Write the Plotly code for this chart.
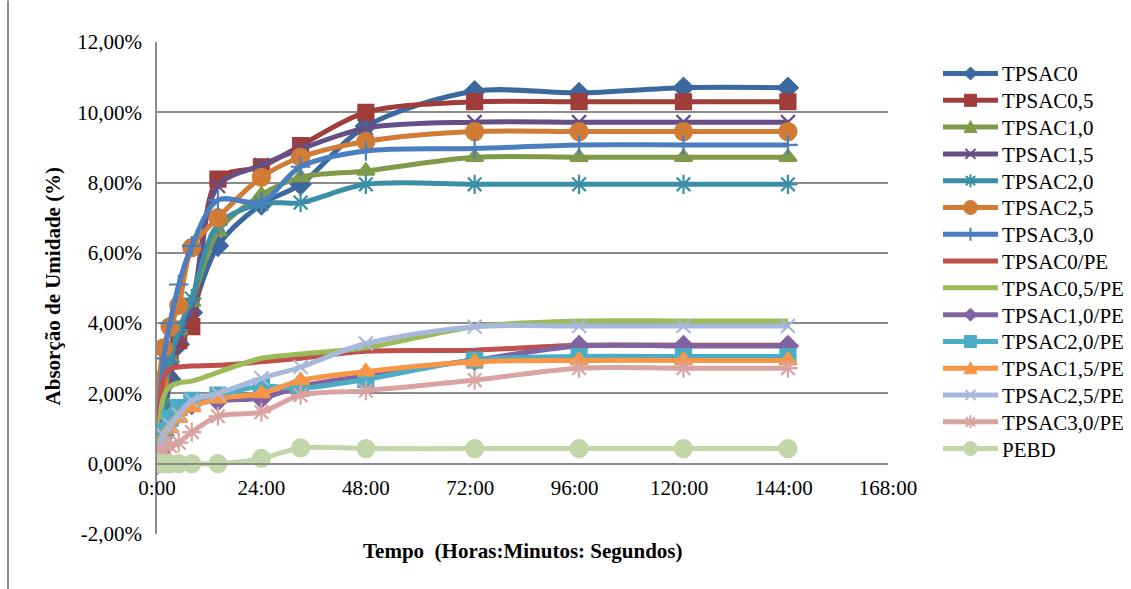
import plotly.graph_objects as go

# Sampling times (hours) and moisture uptake (%) for each formulation
horas = [0, 0.5, 1.5, 3, 5, 8, 14, 24, 33, 48, 73, 97, 121, 145]

series = {
    "TPSAC0":      [0, 0.4, 1.0, 2.4, 3.4, 4.3, 6.2, 7.38, 7.95, 9.6, 10.6, 10.55, 10.7, 10.7],
    "TPSAC0,5":    [0, 1.7, 2.4, 3.0, 3.5, 3.9, 8.1, 8.45, 9.05, 10.0, 10.3, 10.3, 10.3, 10.3],
    "TPSAC1,0":    [0, 0.8, 1.8, 3.0, 3.8, 4.6, 6.6, 7.65, 8.15, 8.33, 8.72, 8.72, 8.72, 8.72],
    "TPSAC1,5":    [0, 0.5, 1.5, 2.7, 3.6, 4.5, 7.9, 8.5, 8.95, 9.55, 9.72, 9.72, 9.72, 9.72],
    "TPSAC2,0":    [0, 0.6, 1.6, 2.9, 3.8, 4.7, 6.8, 7.4, 7.43, 7.95, 7.95, 7.95, 7.95, 7.95],
    "TPSAC2,5":    [0.95, 2.35, 3.3, 3.9, 4.5, 6.15, 7.0, 8.15, 8.72, 9.17, 9.45, 9.45, 9.45, 9.45],
    "TPSAC3,0":    [0, 1.5, 3.0, 4.0, 5.1, 6.2, 7.5, 7.45, 8.45, 8.9, 8.97, 9.07, 9.07, 9.07],
    "TPSAC0/PE":   [0, 1.3, 2.4, 2.7, 2.75, 2.78, 2.8, 2.9, 3.0, 3.2, 3.23, 3.37, 3.37, 3.37],
    "TPSAC0,5/PE": [0, 1.0, 1.9, 2.2, 2.3, 2.35, 2.6, 3.0, 3.12, 3.3, 3.9, 4.06, 4.06, 4.06],
    "TPSAC1,0/PE": [0, 0.3, 0.8, 1.2, 1.5, 1.7, 1.8, 1.87, 2.2, 2.5, 2.95, 3.35, 3.35, 3.35],
    "TPSAC2,0/PE": [0, 0.4, 0.9, 1.3, 1.6, 1.8, 1.95, 2.2, 2.15, 2.4, 2.95, 3.05, 3.05, 3.05],
    "TPSAC1,5/PE": [0, 0.3, 0.7, 1.0, 1.3, 1.6, 1.85, 2.0, 2.37, 2.62, 2.9, 2.94, 2.94, 2.94],
    "TPSAC2,5/PE": [0, 0.4, 0.8, 1.1, 1.4, 1.8, 2.0, 2.43, 2.75, 3.42, 3.9, 3.92, 3.92, 3.92],
    "TPSAC3,0/PE": [0, 0.2, 0.4, 0.5, 0.6, 0.9, 1.35, 1.47, 1.95, 2.08, 2.38, 2.72, 2.72, 2.72],
    "PEBD":        [0, 0, 0, 0, 0, 0, 0, 0.15, 0.45, 0.43, 0.43, 0.43, 0.43, 0.43],
}

x_ticks = [0, 24, 48, 72, 96, 120, 144, 168]
x_tick_labels = ["0:00", "24:00", "48:00", "72:00", "96:00", "120:00", "144:00", "168:00"]
y_ticks = [-2, 0, 2, 4, 6, 8, 10, 12]
y_tick_labels = ["-2,00%", "0,00%", "2,00%", "4,00%", "6,00%", "8,00%", "10,00%", "12,00%"]

# Colour, marker symbol and marker size for every series
styles = {
    "TPSAC0":      ("#3C68A0", "diamond", 15),
    "TPSAC0,5":    ("#9E3D3A", "square", 15),
    "TPSAC1,0":    ("#7F9A48", "triangle-up", 15),
    "TPSAC1,5":    ("#664F87", "x-thin-open", 14),
    "TPSAC2,0":    ("#3A8FA6", "asterisk-open", 16),
    "TPSAC2,5":    ("#D17C35", "circle", 17),
    "TPSAC3,0":    ("#4A7EBF", "cross-thin-open", 14),
    "TPSAC0/PE":   ("#C0504D", None, 0),
    "TPSAC0,5/PE": ("#9BBB59", None, 0),
    "TPSAC1,0/PE": ("#8064A2", "diamond", 15),
    "TPSAC2,0/PE": ("#4BACC6", "square", 15),
    "TPSAC1,5/PE": ("#F79646", "triangle-up", 15),
    "TPSAC2,5/PE": ("#A7B9DA", "x-thin-open", 14),
    "TPSAC3,0/PE": ("#D9A3A1", "asterisk-open", 16),
    "PEBD":        ("#C3D6A9", "circle", 17),
}

# Small glyph outlines (pixel offsets) used in the key
KEY_GLYPHS = {
    "diamond": ("M0,6.5 L6.5,0 L0,-6.5 L-6.5,0 Z", True),
    "square": ("M-6,-6 L6,-6 L6,6 L-6,6 Z", True),
    "triangle-up": ("M-6.5,-5.5 L6.5,-5.5 L0,6.5 Z", True),
    "x-thin-open": ("M-5,-5 L5,5 M-5,5 L5,-5", False),
    "asterisk-open": ("M0,-6.5 L0,6.5 M-4.6,-4.6 L4.6,4.6 M-4.6,4.6 L4.6,-4.6", False),
    "cross-thin-open": ("M0,-6.5 L0,6.5 M-6.5,0 L6.5,0", False),
}

FONT = "Liberation Serif, Times New Roman, serif"
GRID = "#8C8C8C"
LINE_W = 5

# Figure and plot-area geometry in pixels
W, H = 1131, 589
L, R, T, B = 157, 243, 41.5, 55.4
pw, ph = W - L - R, H - T - B


def px_x(px):
    return (px - L) / pw


def px_y(py):
    return (H - B - py) / ph


fig = go.Figure()
for name, vals in series.items():
    color, symbol, size = styles[name]
    if symbol is None:
        mode, marker = "lines", dict()
    else:
        mode = "lines+markers"
        marker = dict(symbol=symbol, size=size, color=color,
                      line=dict(color=color, width=2.2))
    fig.add_trace(go.Scatter(
        x=horas, y=vals, name=name, mode=mode, showlegend=False,
        line=dict(color=color, width=LINE_W, shape="spline", smoothing=0.9),
        marker=marker,
    ))

shapes = [
    dict(type="line", xref="paper", yref="paper",
         x0=px_x(8), x1=px_x(8), y0=px_y(0), y1=px_y(H),
         line=dict(color=GRID, width=2)),
]
annotations = [
    dict(text="<b>Tempo  (Horas:Minutos: Segundos)</b>", xref="paper", yref="paper",
         x=0.5, y=px_y(551), xanchor="center", yanchor="middle", showarrow=False,
         font=dict(family=FONT, size=21, color="black")),
    dict(text="<b>Absorção de Umidade (%)</b>", xref="paper", yref="paper",
         x=px_x(53), y=px_y(286), xanchor="center", yanchor="middle", showarrow=False,
         textangle=-90, font=dict(family=FONT, size=21, color="black")),
]

# Key on the right: line sample, glyph and label for each series
KEY_X0, KEY_X1, KEY_TXT, KEY_Y0, KEY_DY = 943, 998, 1000, 73, 26.8
key_cx = (KEY_X0 + KEY_X1) / 2
for i, name in enumerate(series):
    color, symbol, size = styles[name]
    yk = KEY_Y0 + i * KEY_DY
    shapes.append(dict(type="line", xref="paper", yref="paper",
                       x0=px_x(KEY_X0), x1=px_x(KEY_X1), y0=px_y(yk), y1=px_y(yk),
                       line=dict(color=color, width=LINE_W)))
    if symbol == "circle":
        shapes.append(dict(type="circle", xref="paper", yref="paper",
                           xsizemode="pixel", ysizemode="pixel",
                           xanchor=px_x(key_cx), yanchor=px_y(yk),
                           x0=-7, x1=7, y0=-7, y1=7,
                           fillcolor=color, line=dict(color=color, width=1)))
    elif symbol is not None:
        path, filled = KEY_GLYPHS[symbol]
        shapes.append(dict(type="path", xref="paper", yref="paper",
                           xsizemode="pixel", ysizemode="pixel",
                           xanchor=px_x(key_cx), yanchor=px_y(yk), path=path,
                           fillcolor=color if filled else "rgba(0,0,0,0)",
                           line=dict(color=color, width=1 if filled else 2)))
    annotations.append(dict(text=name, xref="paper", yref="paper",
                            x=px_x(KEY_TXT), y=px_y(yk + 1), xanchor="left", yanchor="middle",
                            showarrow=False, font=dict(family=FONT, size=21, color="black")))

fig.update_layout(
    width=W, height=H,
    margin=dict(l=L, r=R, t=T, b=B, pad=0),
    paper_bgcolor="white", plot_bgcolor="white",
    font=dict(family=FONT, size=21, color="black"),
    showlegend=False,
    xaxis=dict(
        range=[0, 168], tickvals=x_ticks, ticktext=x_tick_labels,
        showgrid=False, zeroline=False,
        showline=True, linecolor=GRID, linewidth=1.5,
        anchor="free", position=2 / 14,
        ticks="outside", ticklen=5, tickcolor="rgba(0,0,0,0)",
        tickfont=dict(family=FONT, size=21, color="black"),
    ),
    yaxis=dict(
        range=[-2, 12], tickvals=y_ticks, ticktext=y_tick_labels,
        showgrid=True, gridcolor=GRID, gridwidth=1.5, zeroline=False,
        showline=True, linecolor=GRID, linewidth=1.5,
        ticks="outside", ticklen=9, tickcolor="rgba(0,0,0,0)",
        tickfont=dict(family=FONT, size=21, color="black"),
    ),
    annotations=annotations,
    shapes=shapes,
)

fig.write_html("out.html")
